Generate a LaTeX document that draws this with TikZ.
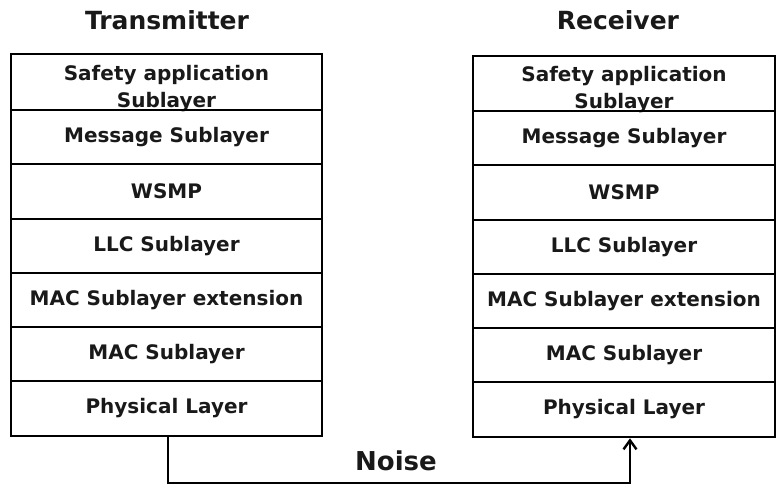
\documentclass[tikz,border=0pt]{standalone}
\usepackage{fontspec}
\setmainfont{DejaVu Sans}
\usetikzlibrary{arrows.meta}
\begin{document}
\begin{tikzpicture}[x=1pt,y=-1pt,
  layer/.style={draw=black, line width=2.6pt, rectangle, inner sep=0pt,
    font=\fontsize{20}{28}\selectfont\bfseries, text=black!90, align=center},
  tl/.style={layer, minimum width=311pt},
  rl/.style={layer, minimum width=302pt},
  lbl/.style={font=\fontsize{20}{27}\selectfont\bfseries, text=black!90, align=center},
  title/.style={font=\fontsize{25}{30}\selectfont\bfseries, text=black!90},
  conn/.style={line width=2.6pt, draw=black}]
\useasboundingbox (0,0) rectangle (776,485);
\node[title] (tt) at (167,20) {Transmitter};
\node[title] (rt) at (618,20) {Receiver};
% transmitter stack
\node[tl, minimum height=56pt] (tA) at (166.5,82) {};
\node[lbl] (tAt) at (166.5,88.5) {Safety application\\Sublayer};
\node[tl, minimum height=54pt] (tB) at (166.5,137) {Message Sublayer};
\node[tl, minimum height=55pt] (tC) at (166.5,191.5) {WSMP};
\node[tl, minimum height=54pt] (tD) at (166.5,246) {LLC Sublayer};
\node[tl, minimum height=54pt] (tE) at (166.5,300) {MAC Sublayer extension};
\node[tl, minimum height=54pt] (tF) at (166.5,354) {MAC Sublayer};
\node[tl, minimum height=55pt] (tG) at (166.5,408.5) {Physical Layer};
% receiver stack
\node[rl, minimum height=55pt] (rA) at (624,83.5) {};
\node[lbl] (rAt) at (624,89.5) {Safety application\\Sublayer};
\node[rl, minimum height=54pt] (rB) at (624,138) {Message Sublayer};
\node[rl, minimum height=55pt] (rC) at (624,192.5) {WSMP};
\node[rl, minimum height=54pt] (rD) at (624,247) {LLC Sublayer};
\node[rl, minimum height=54pt] (rE) at (624,301) {MAC Sublayer extension};
\node[rl, minimum height=54pt] (rF) at (624,355) {MAC Sublayer};
\node[rl, minimum height=55pt] (rG) at (624,409.5) {Physical Layer};
% connector
\coordinate (c1) at (168,483);
\coordinate (c2) at (630,483);
\draw[conn, -{Straight Barb[length=9pt,width=13pt,line width=2.4pt]}]
  (tG.south -| c1) -- (c1) -- (c2) -- (rG.south -| c2);
\node[font=\fontsize{26}{30}\selectfont\bfseries, text=black!90] (noise) at (396,461) {Noise};
\end{tikzpicture}
\end{document}
